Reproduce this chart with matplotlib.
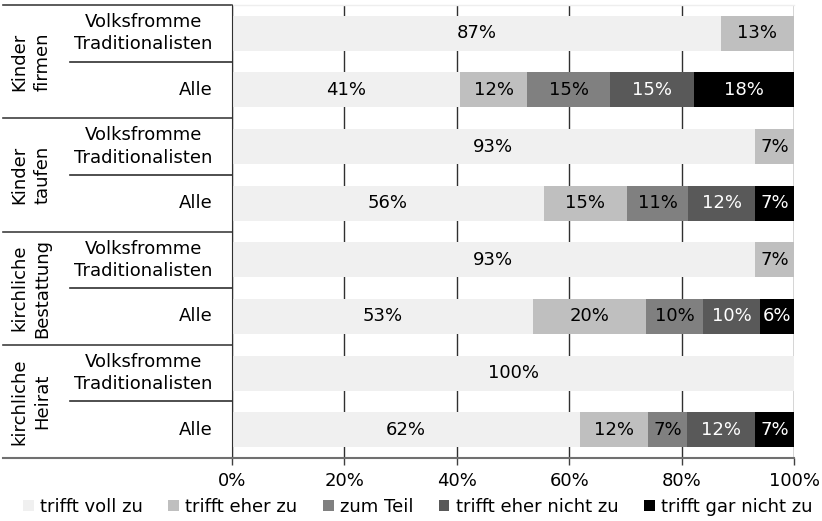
import matplotlib
matplotlib.use('Agg')
import matplotlib.pyplot as plt
from matplotlib.patches import Patch
import numpy as np

plt.rcParams['font.family'] = ['DejaVu Sans']

### Data
groups = ["Kinder\nfirmen", "Kinder\ntaufen", "kirchliche\nBestattung", "kirchliche\nHeirat"]
subgroups = ["Volksfromme\nTraditionalisten", "Alle"]
categories = ["trifft voll zu", "trifft eher zu", "zum Teil",
              "trifft eher nicht zu", "trifft gar nicht zu"]
# one row per bar, top to bottom, columns follow categories
values = [
    [87, 13, 0, 0, 0],
    [41, 12, 15, 15, 18],
    [93, 7, 0, 0, 0],
    [56, 15, 11, 12, 7],
    [93, 7, 0, 0, 0],
    [53, 20, 10, 10, 6],
    [100, 0, 0, 0, 0],
    [62, 12, 7, 12, 7],
]
###

colors = ["#f0f0f0", "#bfbfbf", "#808080", "#595959", "#000000"]
text_colors = ["#000000", "#000000", "#000000", "#ffffff", "#ffffff"]
fs = 13

vals = np.array(values, dtype=float)
shares = vals / vals.sum(axis=1, keepdims=True) * 100
n_rows = len(values)
y = np.arange(n_rows)

fig = plt.figure(figsize=(8.22, 5.21), dpi=100)
ax = fig.add_axes([232/822, 1 - 458/521, 562/822, 453/521])

left = np.zeros(n_rows)
for c in range(len(categories)):
    ax.barh(y, shares[:, c], left=left, height=0.62, color=colors[c],
            label=categories[c], zorder=2)
    for r in range(n_rows):
        if vals[r, c] > 0:
            ax.text(left[r] + shares[r, c] / 2, y[r], "%d%%" % vals[r, c],
                    ha='center', va='center', fontsize=fs,
                    color=text_colors[c], zorder=3)
    left += shares[:, c]

ax.set_xlim(0, 100)
ax.set_ylim(n_rows - 0.5, -0.5)
ax.set_xticks([0, 20, 40, 60, 80, 100])
ax.set_xticklabels(["0%", "20%", "40%", "60%", "80%", "100%"], fontsize=fs)
ax.set_yticks([])
ax.tick_params(axis='x', length=5, width=1, color='#404040', pad=5)
ax.xaxis.grid(True, color='#303030', linewidth=1, zorder=0)
ax.set_axisbelow(True)

for s in ['top', 'right']:
    ax.spines[s].set_visible(False)
ax.spines['left'].set_color('#303030')
ax.spines['bottom'].set_color('#707070')
ax.spines['bottom'].set_linewidth(1.5)

# row and group labels on the left side
tr = ax.get_yaxis_transform()
for g in range(len(groups)):
    for s in range(len(subgroups)):
        r = g * 2 + s
        ax.text(-0.035, r, subgroups[s], transform=tr, ha='right', va='center',
                multialignment='center', fontsize=fs, linespacing=1.3)
    ax.text(-0.358, g * 2 + 0.5, groups[g], transform=tr, ha='center',
            va='center', rotation=90, multialignment='center', fontsize=fs,
            linespacing=1.35)
    ax.plot([-0.288, 0], [g * 2 + 0.5, g * 2 + 0.5], transform=tr,
            color='#303030', linewidth=1.2, clip_on=False)
for b in np.arange(-0.5, n_rows, 2):
    last = b > n_rows - 1
    ax.plot([-0.408, 0], [b, b], transform=tr,
            color='#707070' if last else '#404040',
            linewidth=1.5 if last else 1.2, clip_on=False)
ax.plot([0, 1], [-0.5, -0.5], transform=tr, color='#eeeeee', linewidth=1, clip_on=False)

handles = [Patch(facecolor=colors[i], label=categories[i]) for i in range(len(categories))]
fig.legend(handles=handles, loc='center', bbox_to_anchor=(0.508, 1 - 507/521),
           ncol=5, frameon=False, fontsize=fs, handlelength=0.6,
           handleheight=0.6, handletextpad=0.35, columnspacing=1.4,
           borderpad=0, borderaxespad=0)

plt.savefig("out.png", dpi=100)
